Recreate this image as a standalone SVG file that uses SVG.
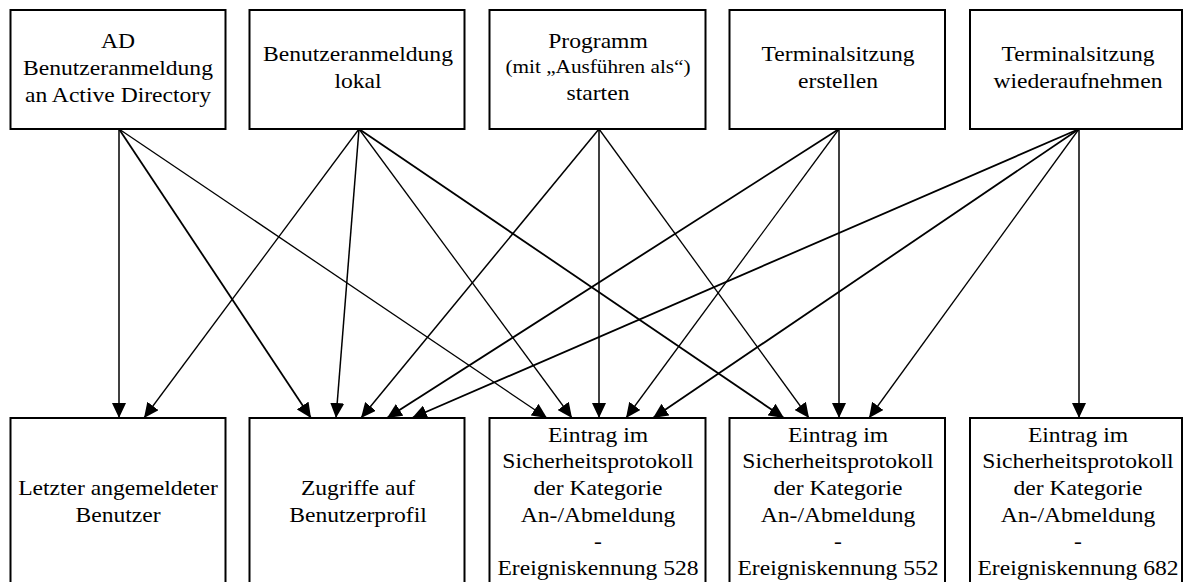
<svg xmlns="http://www.w3.org/2000/svg" width="1183" height="582" viewBox="0 0 1183 582">
<style>
.box{fill:#fff;stroke:#000;stroke-width:2}
.t{font-family:"Liberation Serif","Times New Roman",serif;font-size:20px;fill:#000;text-anchor:middle}
.s{font-size:18px}
.c{fill:none;stroke:#000;stroke-width:1.3;marker-end:url(#ah)}
.k{stroke-width:1.8}
.v{stroke-width:1.5}
</style>
<defs>
<marker id="ah" markerUnits="userSpaceOnUse" markerWidth="15" markerHeight="14" refX="15" refY="7" orient="auto">
<path d="M0,0 L15,7 L0,14 z" fill="#000"/>
</marker>
</defs>
<rect width="1183" height="582" fill="#fff"/>
<g id="connectors">
<line class="c v" x1="119" y1="129" x2="119" y2="418"/>
<line class="c k" x1="119" y1="129" x2="311" y2="418"/>
<line class="c" x1="119" y1="129" x2="547" y2="418"/>
<line class="c" x1="359" y1="129" x2="144" y2="418"/>
<line class="c v" x1="359" y1="129" x2="336" y2="418"/>
<line class="c" x1="359" y1="129" x2="572" y2="418"/>
<line class="c k" x1="359" y1="129" x2="784" y2="418"/>
<line class="c v" x1="599" y1="129" x2="361" y2="418"/>
<line class="c v" x1="599" y1="129" x2="599" y2="418"/>
<line class="c" x1="599" y1="129" x2="809" y2="418"/>
<line class="c k" x1="839" y1="129" x2="387" y2="418"/>
<line class="c" x1="839" y1="129" x2="626" y2="418"/>
<line class="c v" x1="839" y1="129" x2="839" y2="418"/>
<line class="c k" x1="1079" y1="129" x2="412" y2="418"/>
<line class="c k" x1="1079" y1="129" x2="653" y2="418"/>
<line class="c" x1="1079" y1="129" x2="869" y2="418"/>
<line class="c v" x1="1079" y1="129" x2="1079" y2="418"/>
</g>
<g id="n1">
<rect class="box" x="10.5" y="10" width="215" height="119"/>
<g transform="translate(118 0) scale(1.18 1)">
<text class="t" x="0" y="48.3">AD</text>
<text class="t" x="0" y="75">Benutzeranmeldung</text>
<text class="t" x="0" y="101.7">an Active Directory</text>
</g>
</g>
<g id="n2">
<rect class="box" x="249.5" y="10" width="215" height="119"/>
<g transform="translate(358 0) scale(1.18 1)">
<text class="t" x="0" y="61.5">Benutzeranmeldung</text>
<text class="t" x="0" y="88.2">lokal</text>
</g>
</g>
<g id="n3">
<rect class="box" x="489.5" y="10" width="216" height="119"/>
<g transform="translate(598 0) scale(1.18 1)">
<text class="t" x="0" y="48.3">Programm</text>
<text class="t s" x="0" y="73.5">(mit „Ausführen als“)</text>
<text class="t" x="0" y="100">starten</text>
</g>
</g>
<g id="n4">
<rect class="box" x="729.5" y="10" width="215.5" height="119"/>
<g transform="translate(838 0) scale(1.18 1)">
<text class="t" x="0" y="61.5">Terminalsitzung</text>
<text class="t" x="0" y="88.2">erstellen</text>
</g>
</g>
<g id="n5">
<rect class="box" x="970" y="10" width="212" height="119"/>
<g transform="translate(1078 0) scale(1.18 1)">
<text class="t" x="0" y="61.5">Terminalsitzung</text>
<text class="t" x="0" y="88.2">wiederaufnehmen</text>
</g>
</g>
<g id="b1">
<rect class="box" x="10.5" y="418" width="215" height="200"/>
<g transform="translate(118 0) scale(1.18 1)">
<text class="t" x="0" y="495.5">Letzter angemeldeter</text>
<text class="t" x="0" y="522.2">Benutzer</text>
</g>
</g>
<g id="b2">
<rect class="box" x="249.5" y="418" width="215" height="200"/>
<g transform="translate(358 0) scale(1.18 1)">
<text class="t" x="0" y="495.5">Zugriffe auf</text>
<text class="t" x="0" y="522.2">Benutzerprofil</text>
</g>
</g>
<g id="b3">
<rect class="box" x="489.5" y="418" width="216" height="200"/>
<g transform="translate(598 0) scale(1.18 1)">
<text class="t" x="0" y="441.7">Eintrag im</text>
<text class="t" x="0" y="468.3">Sicherheitsprotokoll</text>
<text class="t" x="0" y="495">der Kategorie</text>
<text class="t" x="0" y="521.7">An-/Abmeldung</text>
<text class="t" x="0" y="548.3">-</text>
<text class="t" x="0" y="575">Ereigniskennung 528</text>
</g>
</g>
<g id="b4">
<rect class="box" x="729.5" y="418" width="215.5" height="200"/>
<g transform="translate(838 0) scale(1.18 1)">
<text class="t" x="0" y="441.7">Eintrag im</text>
<text class="t" x="0" y="468.3">Sicherheitsprotokoll</text>
<text class="t" x="0" y="495">der Kategorie</text>
<text class="t" x="0" y="521.7">An-/Abmeldung</text>
<text class="t" x="0" y="548.3">-</text>
<text class="t" x="0" y="575">Ereigniskennung 552</text>
</g>
</g>
<g id="b5">
<rect class="box" x="970" y="418" width="212" height="200"/>
<g transform="translate(1078 0) scale(1.18 1)">
<text class="t" x="0" y="441.7">Eintrag im</text>
<text class="t" x="0" y="468.3">Sicherheitsprotokoll</text>
<text class="t" x="0" y="495">der Kategorie</text>
<text class="t" x="0" y="521.7">An-/Abmeldung</text>
<text class="t" x="0" y="548.3">-</text>
<text class="t" x="0" y="575">Ereigniskennung 682</text>
</g>
</g>
</svg>
